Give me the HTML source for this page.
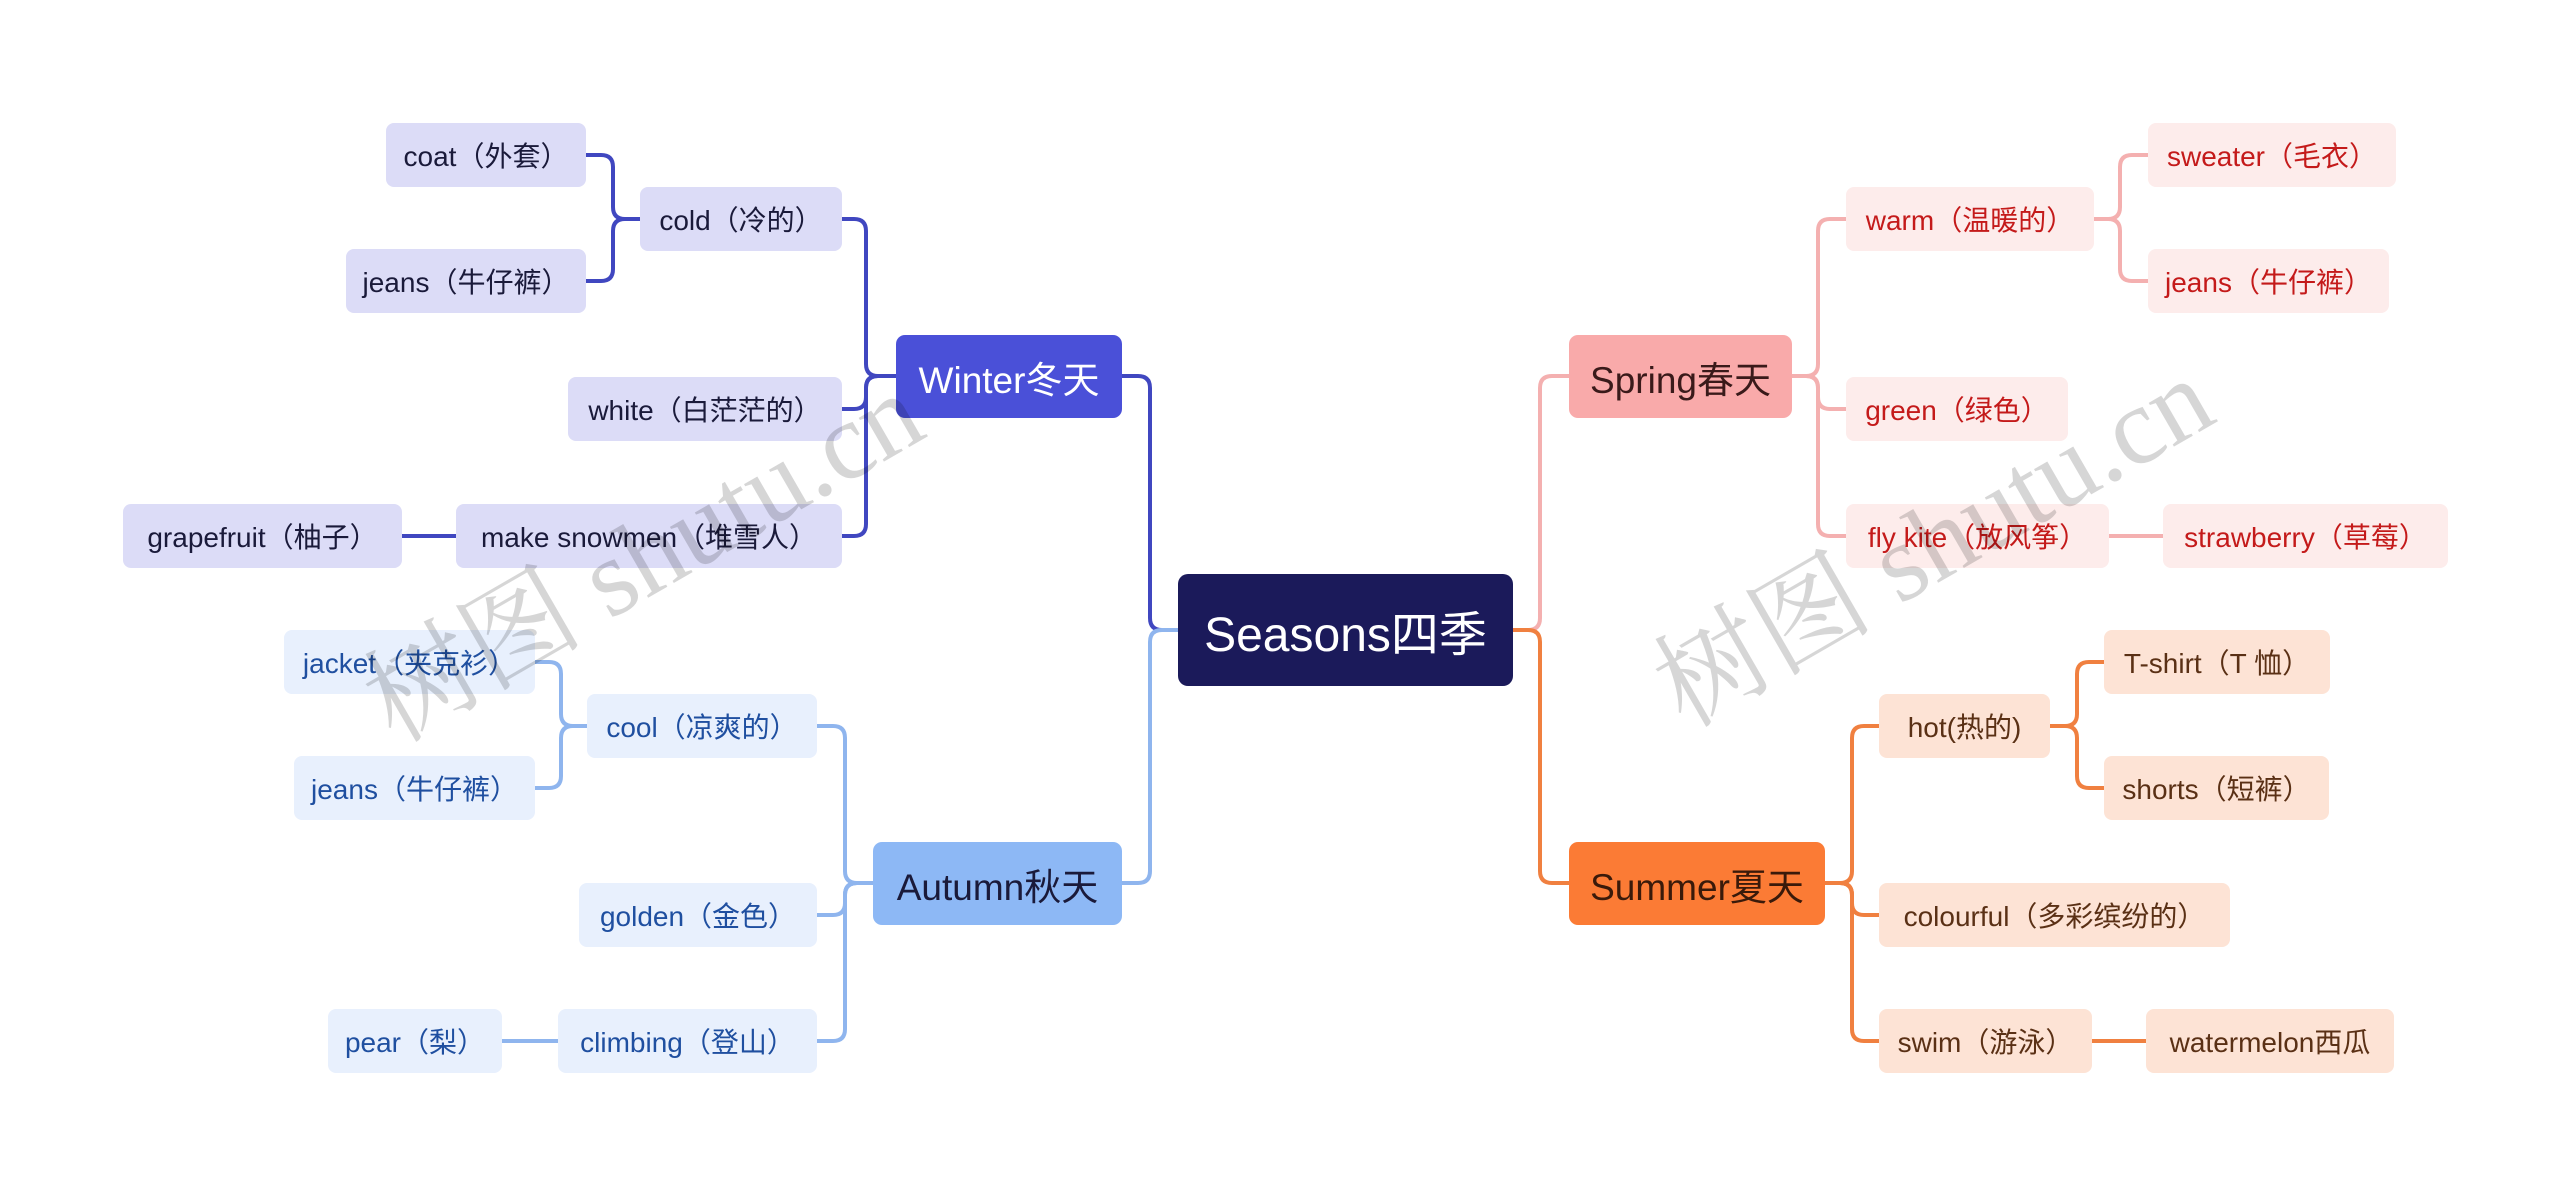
<!DOCTYPE html>
<html><head><meta charset="utf-8"><style>
html,body{margin:0;padding:0;background:#fff;}
#c{position:relative;width:2560px;height:1192px;overflow:hidden;font-family:"Liberation Sans","Noto Sans CJK SC",sans-serif;}
.n{position:absolute;display:flex;align-items:center;justify-content:center;box-sizing:border-box;border-radius:8px;font-size:28px;white-space:nowrap;}
.b{font-size:37px;border-radius:9px;}
.r{font-size:48px;border-radius:10px;background:#1b1a5a;color:#fff;}
.w{background:#dcdcf7;color:#1a1a3a;}
.a{background:#e8f0fd;color:#1f4fa0;}
.s{background:#fdeceb;color:#c41a1a;}
.m{background:#fde3d5;color:#5a3015;}
svg{position:absolute;left:0;top:0;}
.wm{position:absolute;font-family:"Liberation Serif","Noto Serif CJK SC",serif;font-size:110px;color:rgba(0,0,0,0.16);transform:rotate(-30deg);white-space:nowrap;}
</style></head><body><div id="c">
<svg id="s" width="2560" height="1192"></svg>
<div class="n r" style="left:1178px;top:574px;width:335px;height:112px">Seasons四季</div>
<div class="n b" style="left:896px;top:335px;width:226px;height:83px;background:#4a50d8;color:#fff">Winter冬天</div>
<div class="n b" style="left:873px;top:842px;width:249px;height:83px;background:#8db8f5;color:#1a1a3a">Autumn秋天</div>
<div class="n b" style="left:1569px;top:335px;width:223px;height:83px;background:#f9aaaa;color:#3a1a1a">Spring春天</div>
<div class="n b" style="left:1569px;top:842px;width:256px;height:83px;background:#fb7b35;color:#3a1a0a">Summer夏天</div>

<div class="n w" style="left:386px;top:123px;width:200px;height:64px">coat（外套）</div>
<div class="n w" style="left:346px;top:249px;width:240px;height:64px">jeans（牛仔裤）</div>
<div class="n w" style="left:640px;top:187px;width:202px;height:64px">cold（冷的）</div>
<div class="n w" style="left:568px;top:377px;width:274px;height:64px">white（白茫茫的）</div>
<div class="n w" style="left:456px;top:504px;width:386px;height:64px">make snowmen（堆雪人）</div>
<div class="n w" style="left:123px;top:504px;width:279px;height:64px">grapefruit（柚子）</div>

<div class="n a" style="left:284px;top:630px;width:251px;height:64px">jacket（夹克衫）</div>
<div class="n a" style="left:294px;top:756px;width:241px;height:64px">jeans（牛仔裤）</div>
<div class="n a" style="left:587px;top:694px;width:230px;height:64px">cool（凉爽的）</div>
<div class="n a" style="left:579px;top:883px;width:238px;height:64px">golden（金色）</div>
<div class="n a" style="left:558px;top:1009px;width:259px;height:64px">climbing（登山）</div>
<div class="n a" style="left:328px;top:1009px;width:174px;height:64px">pear（梨）</div>

<div class="n s" style="left:1846px;top:187px;width:248px;height:64px">warm（温暖的）</div>
<div class="n s" style="left:2148px;top:123px;width:248px;height:64px">sweater（毛衣）</div>
<div class="n s" style="left:2148px;top:249px;width:241px;height:64px">jeans（牛仔裤）</div>
<div class="n s" style="left:1846px;top:377px;width:222px;height:64px">green（绿色）</div>
<div class="n s" style="left:1846px;top:504px;width:263px;height:64px">fly kite（放风筝）</div>
<div class="n s" style="left:2163px;top:504px;width:285px;height:64px">strawberry（草莓）</div>

<div class="n m" style="left:1879px;top:694px;width:171px;height:64px">hot(热的)</div>
<div class="n m" style="left:2104px;top:630px;width:226px;height:64px">T-shirt（T 恤）</div>
<div class="n m" style="left:2104px;top:756px;width:225px;height:64px">shorts（短裤）</div>
<div class="n m" style="left:1879px;top:883px;width:351px;height:64px">colourful（多彩缤纷的）</div>
<div class="n m" style="left:1879px;top:1009px;width:213px;height:64px">swim（游泳）</div>
<div class="n m" style="left:2146px;top:1009px;width:248px;height:64px">watermelon西瓜</div>

<div class="wm" style="left:330px;top:470px">树图 shutu.cn</div>
<div class="wm" style="left:1620px;top:455px">树图 shutu.cn</div>
</div>
<script>
var s=document.getElementById('s'),P='';
function c(x1,y1,xs,x2,y2,col){
 var r=12,d;
 if(Math.abs(y2-y1)<1){d='M'+x1+' '+y1+'H'+x2;}
 else{var dx=x2>x1?1:-1,dy=y2>y1?1:-1;
 d='M'+x1+' '+y1+'H'+(xs-dx*r)+'Q'+xs+' '+y1+' '+xs+' '+(y1+dy*r)+'V'+(y2-dy*r)+'Q'+xs+' '+y2+' '+(xs+dx*r)+' '+y2+'H'+x2;}
 P+='<path d="'+d+'" fill="none" stroke="'+col+'" stroke-width="4"/>';
}
var W='#4047c0',A='#8fb5ee',S='#f4b0b0',M='#f08040';
c(1178,630,1150,1122,376,W);c(1178,630,1150,1122,883,A);
c(1513,630,1540,1569,376,S);c(1513,630,1540,1569,883,M);
[219,409,536].forEach(function(y){c(896,376,866,842,y,W);});
[155,281].forEach(function(y){c(640,219,613,586,y,W);});
c(456,536,430,402,536,W);
[726,915,1041].forEach(function(y){c(873,883,845,817,y,A);});
[662,788].forEach(function(y){c(587,726,561,535,y,A);});
c(558,1041,530,502,1041,A);
[219,409,536].forEach(function(y){c(1792,376,1818,1846,y,S);});
[155,281].forEach(function(y){c(2094,219,2120,2148,y,S);});
c(2109,536,2136,2163,536,S);
[726,915,1041].forEach(function(y){c(1825,883,1852,1879,y,M);});
[662,788].forEach(function(y){c(2050,726,2077,2104,y,M);});
c(2092,1041,2119,2146,1041,M);
s.innerHTML=P;
</script>
</body></html>
